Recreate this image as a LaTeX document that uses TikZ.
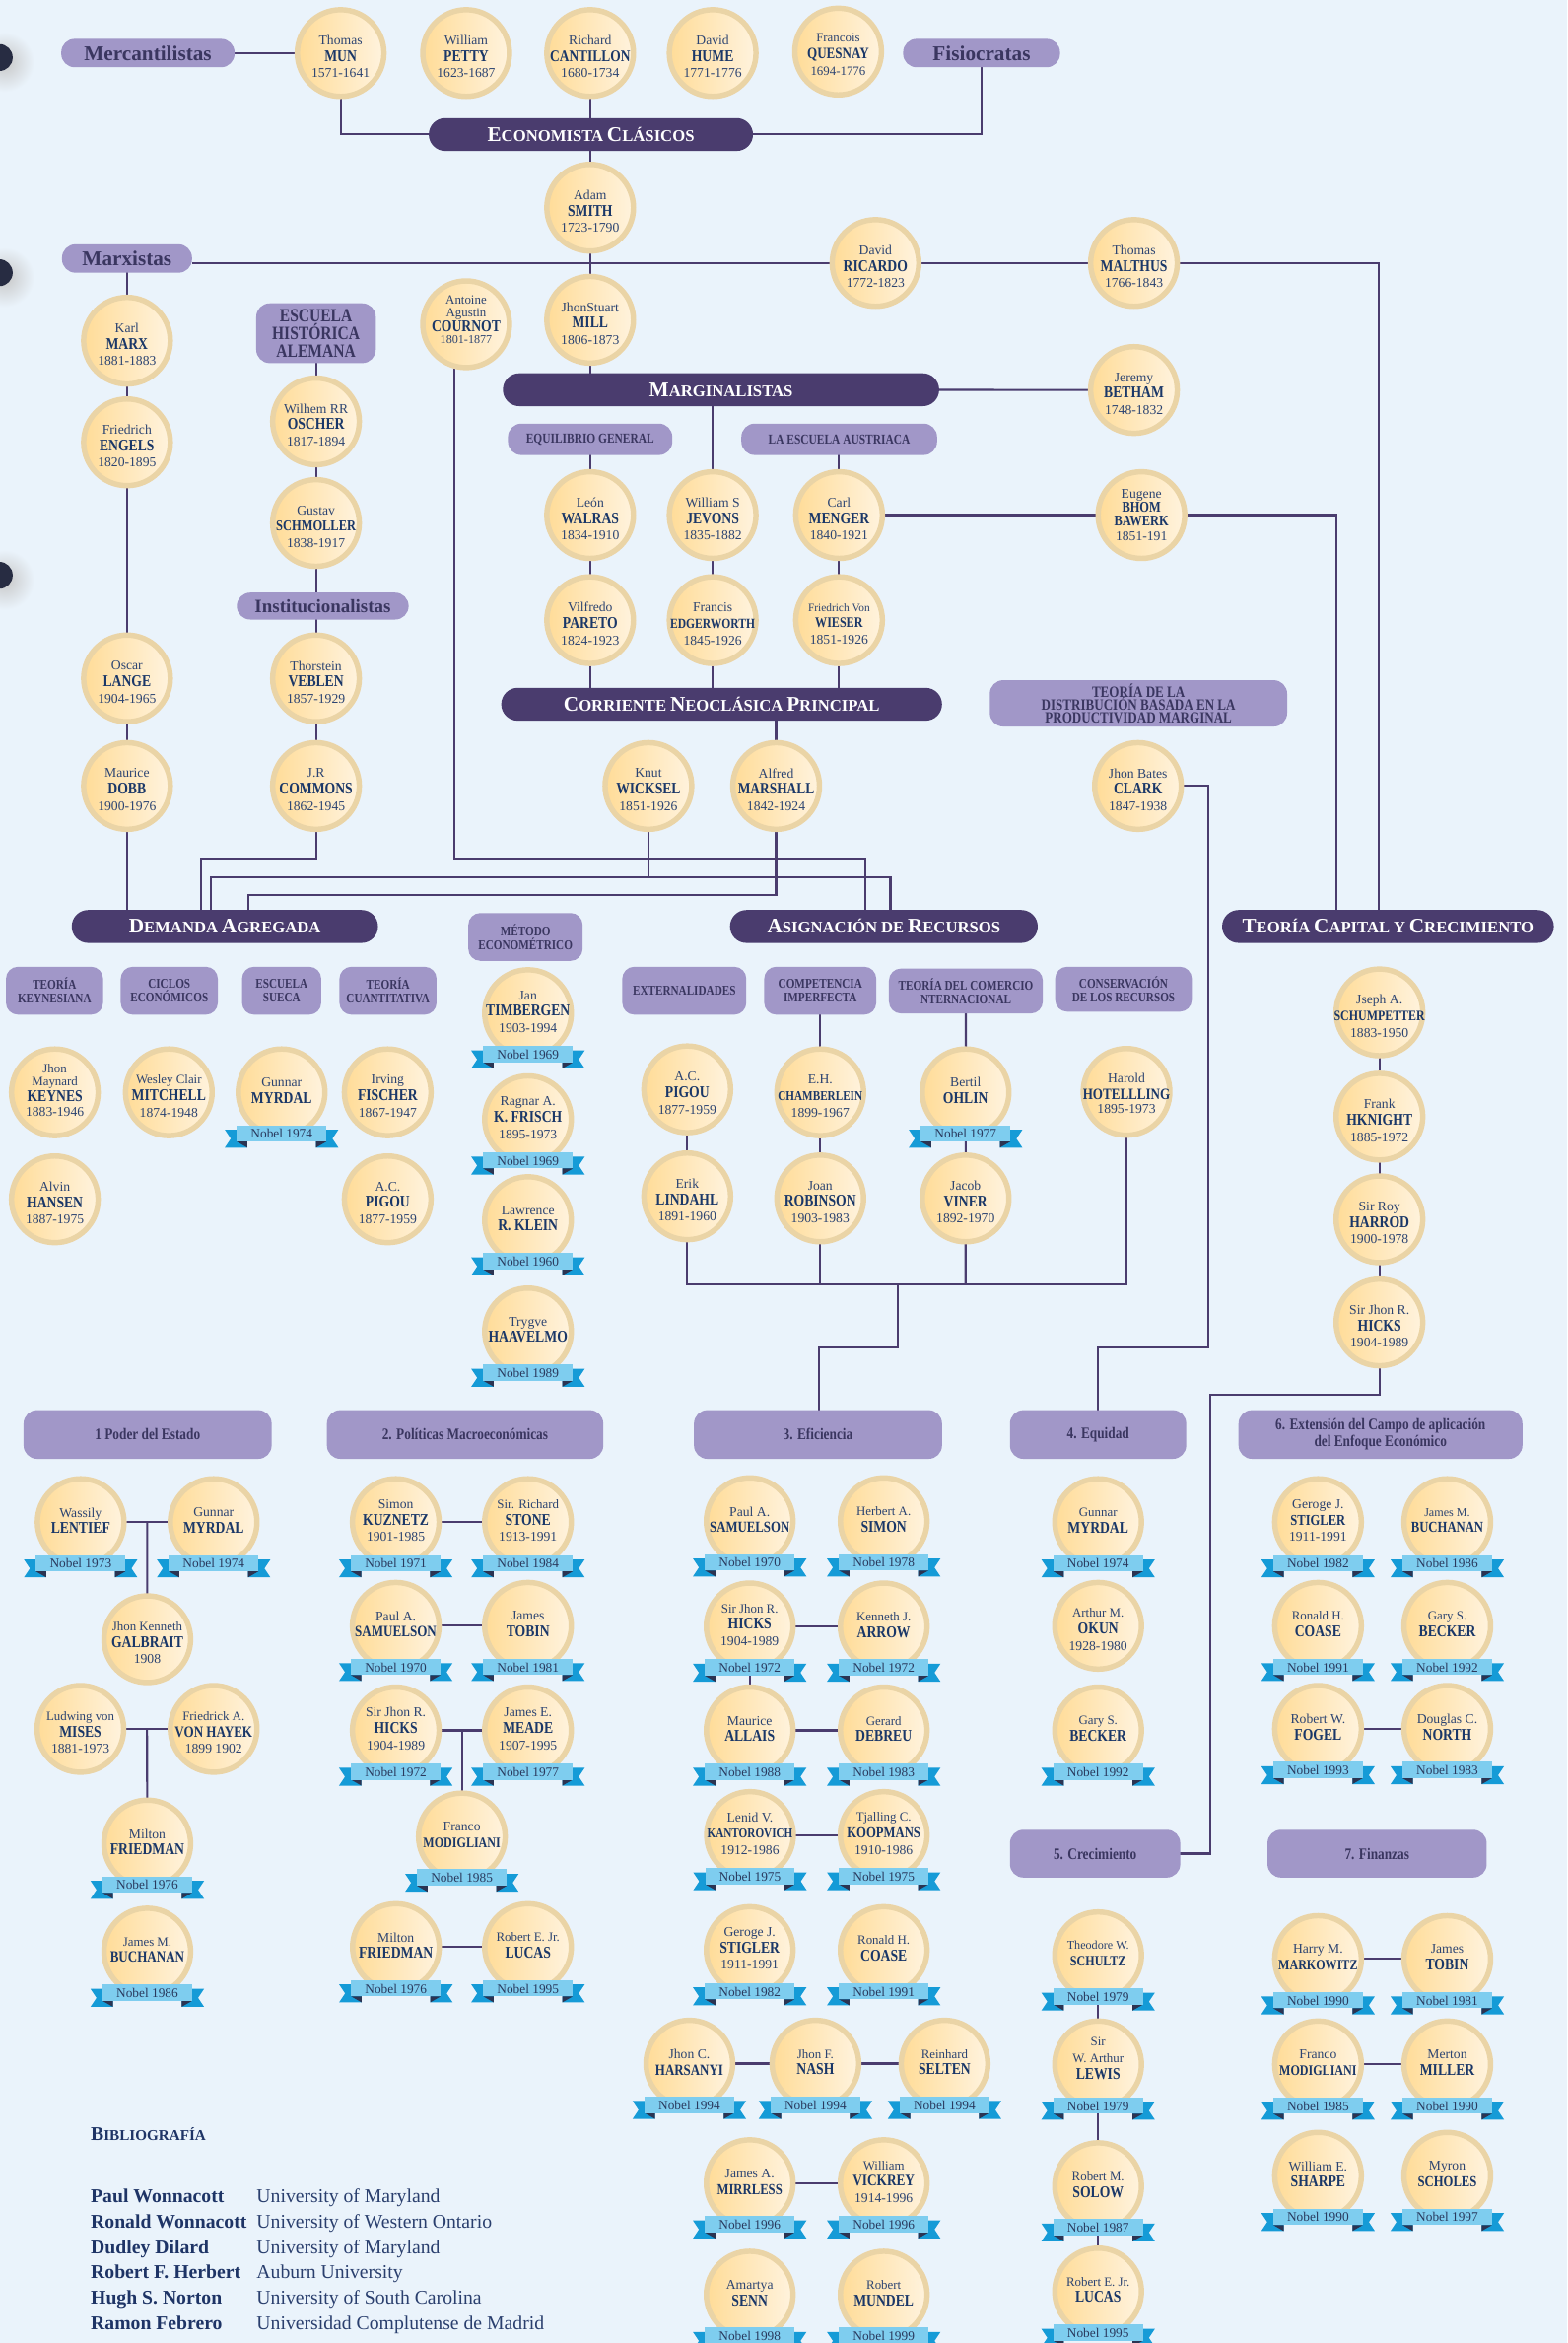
\documentclass[tikz,border=0pt]{standalone}
\usepackage{fontspec}
\setmainfont{Liberation Serif}
\newfontfamily\cnd{Liberation Serif}[FakeStretch=0.82]
\usetikzlibrary{calc}
\pgfdeclarelayer{back}
\pgfsetlayers{back,main}
\definecolor{bgc}{HTML}{EAF3FB}
\definecolor{barc}{HTML}{4A3C6E}
\definecolor{boxc}{HTML}{A197C8}
\definecolor{boxtxt}{HTML}{3A3660}
\definecolor{linec}{HTML}{4A3C6E}
\definecolor{ringc}{HTML}{EAD4A6}
\definecolor{fillL}{HTML}{FFDC98}
\definecolor{fillR}{HTML}{FFF3DE}
\definecolor{namec}{HTML}{1A3768}
\definecolor{yrc}{HTML}{2C4472}
\definecolor{bandc}{HTML}{7ECDEF}
\definecolor{tailc}{HTML}{159BD7}
\definecolor{foldc}{HTML}{2B3452}
\definecolor{nobtxt}{HTML}{2A3A5E}
\definecolor{dotc}{HTML}{272C42}
\definecolor{bibc}{HTML}{1E3466}
\definecolor{bibc2}{HTML}{2A3F6E}
\newcommand\tightls{\lineskiplimit=-20pt\relax}
\tikzset{
 pcirc/.style={circle, draw=ringc, line width=3.6pt, minimum size=58pt, inner sep=0pt, left color=fillL, right color=fillR},
 ptext/.style={align=center, inner sep=0pt, text=namec, font=\fontsize{9}{11}\selectfont},
 bar/.style={fill=barc, rounded corners=11pt, inner sep=0pt, minimum height=22pt, text=white, font=\bfseries},
 bigbox/.style={fill=boxc, rounded corners=9pt, inner sep=0pt, minimum height=19pt, text=boxtxt, font=\bfseries\fontsize{14}{14}\selectfont},
 midbox/.style={fill=boxc, rounded corners=9pt, inner sep=0pt, minimum height=21pt, text=boxtxt, align=center, font=\cnd\bfseries\fontsize{9.2}{9.2}\selectfont},
 subbox/.style={fill=boxc, rounded corners=8pt, inner sep=0pt, minimum height=32pt, text=boxtxt, align=center, font=\cnd\bfseries\fontsize{9}{9.2}\selectfont},
 catbox/.style={fill=boxc, rounded corners=9pt, inner sep=0pt, minimum height=32.6pt, text=boxtxt, align=center, font=\cnd\bfseries\fontsize{10.7}{11}\selectfont},
 conn/.style={draw=linec, line width=1.4pt},
 nobeltxt/.style={inner sep=0pt, text=nobtxt, font=\fontsize{8.8}{9}\selectfont},
 bibname/.style={anchor=base west, inner sep=0pt, text=bibc, font=\bfseries\fontsize{13}{13}\selectfont},
 bibuni/.style={anchor=base west, inner sep=0pt, text=bibc2, font=\fontsize{13}{13}\selectfont},
}
\newcommand\pF[2][9]{{\color{yrc}\fontsize{#1}{11}\selectfont #2}}
\newcommand\pN[2][11]{{\cnd\bfseries\fontsize{#1}{11}\selectfont #2}}
\newcommand\pY[2][9]{{\color{yrc}\fontsize{#1}{11}\selectfont #2}}
\newcommand\SC[2]{{\fontsize{14}{16}\selectfont #1}{\fontsize{11}{16}\selectfont #2}}
\newcommand\SCb[2]{{\fontsize{13}{16}\selectfont #1}{\fontsize{10}{16}\selectfont #2}}
\newcommand\ribbon[2]{%
 \begin{scope}[shift={(#1.center)}]
  \fill[tailc] (-38,25)--(-34,31)--(-38,37)--(-23,37)--(-23,25)--cycle;
  \fill[tailc] (38,25)--(34,31)--(38,37)--(23,37)--(23,25)--cycle;
  \fill[foldc] (-30,33)--(-23,33)--(-23,37)--cycle;
  \fill[foldc] (30,33)--(23,33)--(23,37)--cycle;
  \fill[bandc] (-30,22) rectangle (30,33);
  \node[nobeltxt] at (0,27.8) {Nobel #2};
 \end{scope}}
\newcommand\perso[5][2.5]{%
  \node[pcirc] (#2) at (#3,#4) {};
  \node[ptext] at ({#3},{#4+(#1)}) {#5};}
\newcommand\persn[6][-1]{%
  \node[pcirc] (#2) at (#3,#4) {};
  \node[ptext] at ({#3},{#4+(#1)}) {#5};
  \ribbon{#2}{#6}}
\begin{document}
\begin{tikzpicture}[x=1pt,y=-1pt]
\useasboundingbox (0,0) rectangle (1049,1568);

% left edge markers
\foreach \yy in {38.5,182.5,385}{
  \shade[inner color=black!22, outer color=bgc] (3,\yy+3) circle (20pt);
  \fill[dotc] (-0.5,\yy) circle (9pt);
}

% ---------- top ----------
\node[bigbox, minimum width=116pt] (mercant) at (99,35.5) {Mercantilistas};
\node[bigbox, minimum width=105pt] (fisio) at (657,35.5) {Fisiocratas};
\perso{mun}{228}{35.5}{\pF{Thomas}\\\pN{MUN}\\\pY{1571-1641}}
\perso{petty}{312}{35.5}{\pF{William}\\\pN{PETTY}\\\pY{1623-1687}}
\perso{cantillon}{395}{35.5}{\pF{Richard}\\\pN[10.8]{CANTILLON}\\\pY{1680-1734}}
\perso{hume}{477}{35.5}{\pF{David}\\\pN{HUME}\\\pY{1771-1776}}
\perso[2]{quesnay}{561}{34.5}{\pF[8.5]{Francois}\\\pN[10.5]{QUESNAY}\\\pY[8.5]{1694-1776}}
\node[bar, minimum width=217pt] (clasicos) at (395.5,90) {\SC{E}{CONOMISTA} \SC{C}{LÁSICOS}};
\perso{smith}{395}{139}{\pF{Adam}\\\pN{SMITH}\\\pY{1723-1790}}

\node[bigbox, minimum width=87pt] (marxbox) at (85,173) {Marxistas};
\perso{ricardo}{586}{176}{\pF{David}\\\pN{RICARDO}\\\pY{1772-1823}}
\perso{malthus}{759}{176}{\pF{Thomas}\\\pN{MALTHUS}\\\pY{1766-1843}}
\perso{marx}{85}{228}{\pF{Karl}\\\pN{MARX}\\\pY{1881-1883}}
\perso{engels}{85}{296}{\pF{Friedrich}\\\pN{ENGELS}\\\pY{1820-1895}}
\perso{lange}{85}{454}{\pF{Oscar}\\\pN{LANGE}\\\pY{1904-1965}}
\perso{dobb}{85}{526}{\pF{Maurice}\\\pN{DOBB}\\\pY{1900-1976}}

\node[fill=boxc, rounded corners=9pt, inner sep=0pt, minimum width=80pt, minimum height=40pt, text=boxtxt, align=center, font={\cnd\bfseries\fontsize{12.5}{11.8}\selectfont\tightls}] (escuela) at (211.5,223) {ESCUELA\\HISTÓRICA\\ALEMANA};
\perso{oscher}{211.5}{282}{\pF{Wilhem RR}\\\pN{OSCHER}\\\pY{1817-1894}}
\perso{schmoller}{211.5}{350}{\pF{Gustav}\\\pN[10]{SCHMOLLER}\\\pY{1838-1917}}
\node[bigbox, minimum width=115pt, minimum height=18pt, font=\bfseries\fontsize{12.5}{12.5}\selectfont] (instit) at (216,405.6) {Institucionalistas};
\perso{veblen}{211.5}{454}{\pF{Thorstein}\\\pN{VEBLEN}\\\pY{1857-1929}}
\perso{commons}{211.5}{526}{\pF{J.R}\\\pN{COMMONS}\\\pY{1862-1945}}

\perso[-3]{cournot}{312}{217}{\pF[8.5]{Antoine}\\[-3pt]\pF[8.5]{Agustin}\\[-1pt]\pN{COURNOT}\\[-3pt]\pY[8]{1801-1877}}
\perso{mill}{395}{214}{\pF{JhonStuart}\\\pN{MILL}\\\pY{1806-1873}}
\node[bar, minimum width=292pt] (marg) at (482.6,260.8) {\SC{M}{ARGINALISTAS}};
\perso{betham}{759}{261}{\pF{Jeremy}\\\pN{BETHAM}\\\pY{1748-1832}}
\node[midbox, minimum width=110pt] (eqgen) at (395,294) {EQUILIBRIO GENERAL};
\node[midbox, minimum width=131pt] (austr) at (561.7,294) {LA ESCUELA AUSTRIACA};
\perso{walras}{395}{344.7}{\pF{León}\\\pN{WALRAS}\\\pY{1834-1910}}
\perso{jevons}{477}{344.7}{\pF{William S}\\\pN{JEVONS}\\\pY{1835-1882}}
\perso{menger}{561.6}{344.7}{\pF{Carl}\\\pN{MENGER}\\\pY{1840-1921}}
\perso{pareto}{395}{415}{\pF{Vilfredo}\\\pN{PARETO}\\\pY{1824-1923}}
\perso{edger}{477}{415}{\pF{Francis}\\\pN[9.3]{EDGERWORTH}\\\pY{1845-1926}}
\perso{wieser}{561.6}{415}{\pF[7.5]{Friedrich Von}\\\pN[9.7]{WIESER}\\\pY{1851-1926}}
\perso[0]{bawerk}{764}{344.7}{\pF{Eugene}\\[-2pt]\pN[10]{BHOM}\\[-2pt]\pN[10]{BAWERK}\\[-1pt]\pY{1851-191}}
\node[bar, minimum width=295pt] (corriente) at (483,471.3) {\SC{C}{ORRIENTE} \SC{N}{EOCLÁSICA} \SC{P}{RINCIPAL}};
\node[fill=boxc, rounded corners=9pt, inner sep=0pt, minimum width=199pt, minimum height=31pt, text=boxtxt, align=center, font={\cnd\bfseries\fontsize{10.5}{8.6}\selectfont\tightls}] (distrib) at (762,470.7) {TEORÍA DE LA\\DISTRIBUCIÓN BASADA EN LA\\PRODUCTIVIDAD MARGINAL};
\perso{wicksel}{434}{526}{\pF{Knut}\\\pN{WICKSEL}\\\pY{1851-1926}}
\perso{marshall}{519.5}{526}{\pF{Alfred}\\\pN[10.8]{MARSHALL}\\\pY{1842-1924}}
\perso{clark}{761.7}{526}{\pF{Jhon Bates}\\\pN{CLARK}\\\pY{1847-1938}}

% ---------- middle ----------
\node[bar, minimum width=205pt] (demanda) at (150.5,620) {\SC{D}{EMANDA} \SC{A}{GREGADA}};
\node[bar, minimum width=206pt] (asign) at (591.6,620) {\SC{A}{SIGNACIÓN} \SC{}{DE} \SC{R}{ECURSOS}};
\node[bar, minimum width=222pt] (capital) at (929,620) {\SC{T}{EORÍA} \SC{C}{APITAL} \SC{}{Y} \SC{C}{RECIMIENTO}};
\node[subbox, minimum width=76.5pt] (metodo) at (351.7,627) {MÉTODO\\ECONOMÉTRICO};
\node[subbox, minimum width=65pt] (keyn) at (36.5,663) {TEORÍA\\KEYNESIANA};
\node[subbox, minimum width=65pt] (ciclos) at (113.3,663) {CICLOS\\ECONÓMICOS};
\node[subbox, minimum width=53pt] (sueca) at (188.5,663) {ESCUELA\\SUECA};
\node[subbox, minimum width=65pt] (cuant) at (259.7,663) {TEORÍA\\CUANTITATIVA};
\node[subbox, minimum width=83pt] (extern) at (458,663) {EXTERNALIDADES};
\node[subbox, minimum width=75pt] (compet) at (549,663) {COMPETENCIA\\IMPERFECTA};
\node[subbox, minimum width=103pt, minimum height=30pt] (comercio) at (646.5,663.2) {TEORÍA DEL COMERCIO\\NTERNACIONAL};
\node[subbox, minimum width=91.5pt, minimum height=30pt] (conserv) at (752,662) {CONSERVACIÓN\\DE LOS RECURSOS};

\perso[-1.3]{keynes}{36.7}{731}{\pF[8.5]{Jhon}\\[-3pt]\pF[8.5]{Maynard}\\[-0.5pt]\pN{KEYNES}\\[-1pt]\pY{1883-1946}}
\perso{mitchell}{113}{731}{\pF[8.5]{Wesley Clair}\\\pN{MITCHELL}\\\pY{1874-1948}}
\persn{myrdal0}{188.5}{731}{\pF{Gunnar}\\\pN{MYRDAL}}{1974}
\perso{fischer}{259.5}{731}{\pF{Irving}\\\pN{FISCHER}\\\pY{1867-1947}}
\perso{hansen}{36.7}{802.6}{\pF{Alvin}\\\pN{HANSEN}\\\pY{1887-1975}}
\perso{pigou0}{259.5}{802.6}{\pF{A.C.}\\\pN{PIGOU}\\\pY{1877-1959}}
\persn{timbergen}{353.4}{678}{\pF{Jan}\\\pN{TIMBERGEN}\\\pY{1903-1994}}{1969}
\persn{frisch}{353.4}{749}{\pF{Ragnar A.}\\\pN{K. FRISCH}\\\pY{1895-1973}}{1969}
\persn{klein}{353.4}{816.5}{\pF{Lawrence}\\\pN{R. KLEIN}}{1960}
\persn{haavelmo}{353.4}{891}{\pF{Trygve}\\\pN{HAAVELMO}}{1989}
\perso{pigou1}{460}{729}{\pF{A.C.}\\\pN{PIGOU}\\\pY{1877-1959}}
\perso{lindahl}{460}{800.6}{\pF{Erik}\\\pN{LINDAHL}\\\pY{1891-1960}}
\perso{chamb}{549}{731}{\pF{E.H.}\\\pN[9]{CHAMBERLEIN}\\\pY{1899-1967}}
\perso{robinson}{549}{802}{\pF{Joan}\\\pN{ROBINSON}\\\pY{1903-1983}}
\persn{ohlin}{646.3}{731}{\pF{Bertil}\\\pN{OHLIN}}{1977}
\perso{viner}{646.3}{802}{\pF{Jacob}\\\pN{VINER}\\\pY{1892-1970}}
\perso[1]{hotelling}{754}{730.7}{\pF{Harold}\\\pN[10.5]{HOTELLLING}\\[-2pt]\pY{1895-1973}}
\perso{schump}{923.3}{677.5}{\pF{Jseph A.}\\\pN[9.6]{SCHUMPETTER}\\\pY{1883-1950}}
\perso{hknight}{923.3}{747.3}{\pF{Frank}\\\pN{HKNIGHT}\\\pY{1885-1972}}
\perso{harrod}{923.3}{816}{\pF{Sir Roy}\\\pN{HARROD}\\\pY{1900-1978}}
\perso{hicks0}{923.3}{885}{\pF{Sir Jhon R.}\\\pN{HICKS}\\\pY{1904-1989}}

% ---------- bottom categories ----------
\node[catbox, minimum width=166pt] (poder) at (98.8,960) {1 Poder del Estado};
\node[catbox, minimum width=185pt] (politicas) at (311.3,960) {2. Políticas Macroeconómicas};
\node[catbox, minimum width=166pt] (efic) at (547.5,960) {3. Eficiencia};
\node[catbox, minimum width=118pt] (equidad) at (735,960) {4. Equidad};
\node[catbox, minimum width=190pt] (extension) at (924,960) {6. Extensión del Campo de aplicación\\del Enfoque Económico};
\node[catbox, minimum width=114pt, minimum height=32pt] (crecim) at (733,1240.5) {5. Crecimiento};
\node[catbox, minimum width=146.7pt, minimum height=32pt] (finanzas) at (921.7,1240.5) {7. Finanzas};

% 1 Poder del Estado
\persn{lentief}{54}{1018.6}{\pF{Wassily}\\\pN{LENTIEF}}{1973}
\persn{myrdal1}{143}{1018.6}{\pF{Gunnar}\\\pN{MYRDAL}}{1974}
\perso{galbrait}{98.6}{1097}{\pF[8.5]{Jhon Kenneth}\\\pN{GALBRAIT}\\\pY{1908}}
\perso{mises}{53.8}{1157}{\pF[8.5]{Ludwing von}\\\pN{MISES}\\\pY{1881-1973}}
\perso{hayek}{143}{1157}{\pF[8.5]{Friedrick A.}\\\pN[10.5]{VON HAYEK}\\\pY{1899 1902}}
\persn{friedman1}{98.6}{1233.7}{\pF{Milton}\\\pN{FRIEDMAN}}{1976}
\persn{buchanan1}{98.6}{1306}{\pF[8.5]{James M.}\\\pN[10.5]{BUCHANAN}}{1986}

% 2. Politicas
\persn{kuznetz}{264.9}{1018.6}{\pF{Simon}\\\pN{KUZNETZ}\\\pY{1901-1985}}{1971}
\persn{stone}{353.4}{1018.6}{\pF[8.5]{Sir. Richard}\\\pN{STONE}\\\pY{1913-1991}}{1984}
\persn{samuelson1}{264.9}{1088}{\pF{Paul A.}\\\pN[10.5]{SAMUELSON}}{1970}
\persn{tobin1}{353.4}{1088}{\pF{James}\\\pN{TOBIN}}{1981}
\persn{hicks1}{264.9}{1158}{\pF{Sir Jhon R.}\\\pN{HICKS}\\\pY{1904-1989}}{1972}
\persn{meade}{353.4}{1158}{\pF{James E.}\\\pN{MEADE}\\\pY{1907-1995}}{1977}
\persn{modigliani1}{309.15}{1229}{\pF{Franco}\\\pN[9.7]{MODIGLIANI}}{1985}
\persn{friedman2}{265}{1303}{\pF{Milton}\\\pN{FRIEDMAN}}{1976}
\persn{lucas1}{353.4}{1303}{\pF[8.5]{Robert E. Jr.}\\\pN{LUCAS}}{1995}

% 3. Eficiencia
\persn{samuelson2}{501.8}{1018}{\pF{Paul A.}\\\pN[10.3]{SAMUELSON}}{1970}
\persn{simon}{591.5}{1018}{\pF[8.5]{Herbert A.}\\\pN{SIMON}}{1978}
\persn{hicks2}{501.8}{1088.4}{\pF[8.5]{Sir Jhon R.}\\\pN{HICKS}\\\pY{1904-1989}}{1972}
\persn{arrow}{591.5}{1088.4}{\pF[8.5]{Kenneth J.}\\\pN{ARROW}}{1972}
\persn{allais}{501.8}{1158}{\pF{Maurice}\\\pN{ALLAIS}}{1988}
\persn{debreu}{591.5}{1158}{\pF[8.5]{Gerard}\\\pN{DEBREU}}{1983}
\persn{kanto}{502}{1228}{\pF{Lenid V.}\\\pN[9]{KANTOROVICH}\\\pY{1912-1986}}{1975}
\persn{koopmans}{591.5}{1228}{\pF[8.5]{Tjalling C.}\\\pN[10.2]{KOOPMANS}\\\pY{1910-1986}}{1975}
\persn{stigler1}{501.8}{1305}{\pF{Geroge J.}\\\pN{STIGLER}\\\pY{1911-1991}}{1982}
\persn{coase1}{591.5}{1305}{\pF[8.5]{Ronald H.}\\\pN{COASE}}{1991}
\persn{harsanyi}{461.4}{1381}{\pF{Jhon C.}\\\pN[10.4]{HARSANYI}}{1994}
\persn{nash}{545.8}{1381}{\pF[8.5]{Jhon F.}\\\pN{NASH}}{1994}
\persn{selten}{632.2}{1381}{\pF[8.5]{Reinhard}\\\pN{SELTEN}}{1994}
\persn{mirrless}{501.8}{1461}{\pF{James A.}\\\pN[10.2]{MIRRLESS}}{1996}
\persn{vickrey}{591.5}{1461}{\pF[8.5]{William}\\\pN[10.7]{VICKREY}\\\pY{1914-1996}}{1996}
\persn{senn}{501.8}{1535.6}{\pF{Amartya}\\\pN{SENN}}{1998}
\persn{mundel}{591.5}{1535.6}{\pF[8.5]{Robert}\\\pN{MUNDEL}}{1999}

% 4. Equidad
\persn{myrdal2}{735}{1018.6}{\pF[8.5]{Gunnar}\\\pN{MYRDAL}}{1974}
\perso{okun}{735}{1088}{\pF[8.5]{Arthur M.}\\\pN{OKUN}\\\pY{1928-1980}}
\persn{becker1}{735}{1158}{\pF[8.5]{Gary S.}\\\pN{BECKER}}{1992}

% 5. Crecimiento
\persn{schultz}{735}{1308.5}{\pF[8]{Theodore W.}\\\pN[9.7]{SCHULTZ}}{1979}
\persn[-4]{lewis}{735}{1381.5}{\pF[8.5]{Sir}\\\pF[8.5]{W. Arthur}\\\pN{LEWIS}}{1979}
\persn{solow}{735}{1463}{\pF[8.5]{Robert M.}\\\pN{SOLOW}}{1987}
\persn{lucas2}{735}{1533.5}{\pF[8.5]{Robert E. Jr.}\\\pN{LUCAS}}{1995}

% 6. Extension
\persn{stigler2}{882.2}{1018.6}{\pF{Geroge J.}\\\pN[10.1]{STIGLER}\\\pY{1911-1991}}{1982}
\persn{buchanan2}{968.7}{1018.6}{\pF[8]{James M.}\\\pN[10.2]{BUCHANAN}}{1986}
\persn{coase2}{882.2}{1088}{\pF[8.5]{Ronald H.}\\\pN{COASE}}{1991}
\persn{becker2}{968.7}{1088}{\pF[8.5]{Gary S.}\\\pN{BECKER}}{1992}
\persn{fogel}{882.2}{1157}{\pF{Robert W.}\\\pN{FOGEL}}{1993}
\persn{north}{968.7}{1157}{\pF{Douglas C.}\\\pN{NORTH}}{1983}

% 7. Finanzas
\persn{markowitz}{882.2}{1311}{\pF{Harry M.}\\\pN[9.7]{MARKOWITZ}}{1990}
\persn{tobin2}{968.7}{1311}{\pF{James}\\\pN{TOBIN}}{1981}
\persn{modigliani2}{882.2}{1381.5}{\pF{Franco}\\\pN[9.7]{MODIGLIANI}}{1985}
\persn{miller}{968.7}{1381.5}{\pF{Merton}\\\pN{MILLER}}{1990}
\persn{sharpe}{882.2}{1456}{\pF{William E.}\\\pN{SHARPE}}{1990}
\persn{scholes}{968.7}{1456}{\pF{Myron}\\\pN[10.2]{SCHOLES}}{1997}

% ---------- bibliography ----------
\node[anchor=base west, inner sep=0pt, text=bibc, font=\bfseries] (bibt) at (60.6,1432.5) {\SCb{B}{IBLIOGRAFÍA}};
\node[bibname] (bn1) at (60.6,1474.3) {Paul Wonnacott};
\node[bibname] (bn2) at (60.6,1491.2) {Ronald Wonnacott};
\node[bibname] (bn3) at (60.6,1508.1) {Dudley Dilard};
\node[bibname] (bn4) at (60.6,1525.0) {Robert F. Herbert};
\node[bibname] (bn5) at (60.6,1541.9) {Hugh S. Norton};
\node[bibname] (bn6) at (60.6,1558.8) {Ramon Febrero};
\node[bibuni] (bu1) at (171.6,1474.3) {University of Maryland};
\node[bibuni] (bu2) at (171.6,1491.2) {University of Western Ontario};
\node[bibuni] (bu3) at (171.6,1508.1) {University of Maryland};
\node[bibuni] (bu4) at (171.6,1525.0) {Auburn University};
\node[bibuni] (bu5) at (171.6,1541.9) {University of South Carolina};
\node[bibuni] (bu6) at (171.6,1558.8) {Universidad Complutense de Madrid};

% ---------- junction coordinates ----------
\coordinate (capA) at (894.7,620);
\coordinate (capB) at (923,620);
\coordinate (jcom) at (134.6,574.6);
\coordinate (jcour) at (579,574.6);
\coordinate (jwl) at (141.4,587);
\coordinate (jwr) at (596,587);
\coordinate (jm) at (166,599);
\coordinate (jc1) at (808.8,902);
\coordinate (ja) at (601,859.7);
\coordinate (je) at (548,902);
\coordinate (jh) at (810,933.4);
\coordinate (m1) at ($(lentief.center)!0.5!(myrdal1.center)$);
\coordinate (m2) at ($(mises.center)!0.5!(hayek.center)$);
\coordinate (m3) at ($(hicks1.center)!0.5!(meade.center)$);

% ---------- connectors ----------
\begin{pgfonlayer}{back}
\fill[bgc] (0,0) rectangle (1049,1568);
\draw[conn] (mercant.east) -- (mun.center);
\draw[conn] (mun.center) |- (clasicos.west);
\draw[conn] (fisio.center) |- (clasicos.east);
\draw[conn] (cantillon.center) -- (smith.center) -- (mill.center) -- (mill.center |- marg.center);
\draw[conn] (marxbox.east |- ricardo.center) -- (malthus.center) -| (capB);
\draw[conn] (marxbox.center) -- (dobb.center) -- (dobb.center |- demanda.center);
\draw[conn] (escuela.center) -- (commons.center) |- (jcom) -- (jcom |- demanda.center);
\draw[conn] (cournot.-105) |- (jcour) -- (jcour |- asign.center);
\draw[conn] (wicksel.center) -- (wicksel.center |- jwl);
\draw[conn] (jwl |- demanda.center) -- (jwl) -- (jwr) -- (jwr |- asign.center);
\draw[conn] (corriente.center -| marshall.center) -- (marshall.center) |- (jm) -- (jm |- demanda.center);
\draw[conn] (marg.center) -- (betham.center);
\draw[conn] (marg.center -| jevons.center) -- (edger.center) -- (edger.center |- corriente.center);
\draw[conn] (eqgen.center) -- (pareto.center) -- (pareto.center |- corriente.center);
\draw[conn] (austr.center -| menger.center) -- (wieser.center) -- (wieser.center |- corriente.center);
\draw[conn] (menger.center) -- (bawerk.center) -| (capA);
\draw[conn] (clark.center) -| (jc1) -| (equidad.center);
\draw[conn] (pigou1.center) -- (lindahl.center) |- (hotelling.center |- ja) -- (hotelling.center);
\draw[conn] (compet.center) -- (robinson.center) -- (robinson.center |- ja);
\draw[conn] (comercio.center) -- (viner.center) -- (viner.center |- ja);
\draw[conn] (ja) -- (ja |- je) -- (je) -- (je |- efic.center);
\draw[conn] (schump.center) -- (hicks0.center) |- (jh) |- (crecim.center);
% bottom
\draw[conn] (lentief.center) -- (myrdal1.center);
\draw[conn] (m1) -- (galbrait.center);
\draw[conn] (mises.center) -- (hayek.center);
\draw[conn] (m2) -- (friedman1.center);
\draw[conn] (kuznetz.center) -- (stone.center);
\draw[conn] (samuelson1.center) -- (tobin1.center);
\draw[conn] (hicks1.center) -- (meade.center);
\draw[conn] (m3) -- (modigliani1.center);
\draw[conn] (friedman2.center) -- (lucas1.center);
\draw[conn] (hicks2.center) -- (arrow.center);
\draw[conn] (hicks2.center) -- (allais.center);
\draw[conn] (allais.center) -- (debreu.center);
\draw[conn] (kanto.center) -- (koopmans.center);
\draw[conn] (harsanyi.center) -- (nash.center) -- (selten.center);
\draw[conn] (mirrless.center) -- (vickrey.center);
\draw[conn] (schultz.center) -- (lucas2.center);
\draw[conn] (fogel.center) -- (north.center);
\draw[conn] (markowitz.center) -- (tobin2.center);
\draw[conn] (modigliani2.center) -- (miller.center);
\end{pgfonlayer}
\end{tikzpicture}
\end{document}
